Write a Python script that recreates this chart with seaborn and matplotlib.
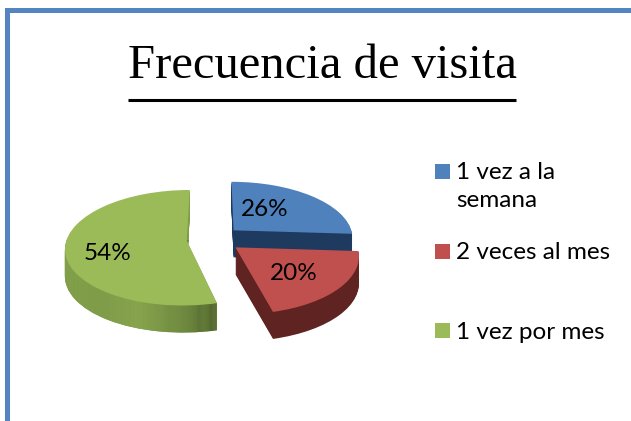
import numpy as np
import seaborn as sns
import matplotlib
matplotlib.use("Agg")
import matplotlib.pyplot as plt
from matplotlib.colors import LinearSegmentedColormap
from matplotlib.legend_handler import HandlerPatch
from matplotlib.transforms import Affine2D, Transform

labels = ["1 vez a la\nsemana", "2 veces al mes\n", "1 vez por mes"]
shares = [26, 20, 54]
top_colors = ["#4f81bd", "#c0504d", "#9bbb59"]
side_colors = ["#1f3a5f", "#5f2322", "#7f9c48"]
explode = [0.228, 0.228, 0.228]

title = "Frecuencia de visita"

sns.set_theme(style="white")
plt.rcParams["font.family"] = ["Lato", "DejaVu Sans"]

W, H = 631, 421
cx, cy = 214, 239
rx, ry = 120, 56.5
tilt = 0.123
depth = 27


class Tilt(Transform):
    # squash the flat pie and make the back smaller than the front
    input_dims = 2
    output_dims = 2

    def transform_non_affine(self, xy):
        xy = np.asarray(xy, dtype=float)
        s = 1 / (1 + tilt * xy[:, 1])
        return np.column_stack([xy[:, 0] * s, xy[:, 1] * s])


fig = plt.figure(figsize=(W / 100, H / 100), dpi=100)
ax = fig.add_axes([0, 0, 1, 1])


def draw_pie(colors, down, order):
    wedges = ax.pie(shares, colors=colors, startangle=90, counterclock=False,
                    explode=explode, wedgeprops={"linewidth": 0})[0]
    move = Affine2D().scale(rx, ry).translate(cx, H - cy - down)
    for w, z in zip(wedges, order):
        w.set_transform(Tilt() + move + ax.transData)
        w.set_zorder(z)
    return wedges


green_side = LinearSegmentedColormap.from_list(
    "green_side", ["#86a34c", "#7f9c48", "#8aa650", "#6f8a40", "#4d602d"])
grad = np.linspace(0, 1, 256).reshape(1, -1)

for d in range(depth, 0, -1):
    wedges = draw_pie(side_colors, d, [1, 3, 1])
    im = ax.imshow(grad, cmap=green_side, extent=(60, 218, H - 340, H - 240),
                   aspect="auto", zorder=1)
    im.set_clip_path(wedges[2])
handles = draw_pie(top_colors, 0, [2, 4, 2])

ax.set_aspect("auto")
ax.set_xlim(0, W)
ax.set_ylim(0, H)
ax.axis("off")

# percent labels
ax.text(265, H - 210, f"{shares[0]}%", fontsize=17.5, ha="center", va="center", color="black", zorder=6)
ax.text(294, H - 274, f"{shares[1]}%", fontsize=17.5, ha="center", va="center", color="black", zorder=6)
ax.text(108, H - 254, f"{shares[2]}%", fontsize=17.5, ha="center", va="center", color="black", zorder=6)

# title and rule
ax.text(322, H - 66, title, fontsize=35, family="Liberation Serif", ha="center", va="center", color="black")
ax.plot([128, 516], [H - 100, H - 100], color="black", lw=2.2, solid_capstyle="butt")

# frame of the slide
ax.plot([6.5, 6.5, W], [0, H - 10, H - 10], color="#5585c0", lw=3.6, solid_joinstyle="miter", solid_capstyle="butt")

up = HandlerPatch(ypad=1.25)
leg = ax.legend(handles, labels, loc="upper left", bbox_to_anchor=(435 / W, 1 - 162 / H),
                frameon=False, fontsize=17.5, handlelength=0.62, handleheight=0.62,
                handletextpad=0.25, labelspacing=1.27, borderaxespad=0, borderpad=0,
                labelcolor="black", handler_map={handles[0]: up, handles[1]: up})
for t in leg.get_texts():
    t.set_linespacing(1.42)

fig.savefig("out.png", dpi=100)
